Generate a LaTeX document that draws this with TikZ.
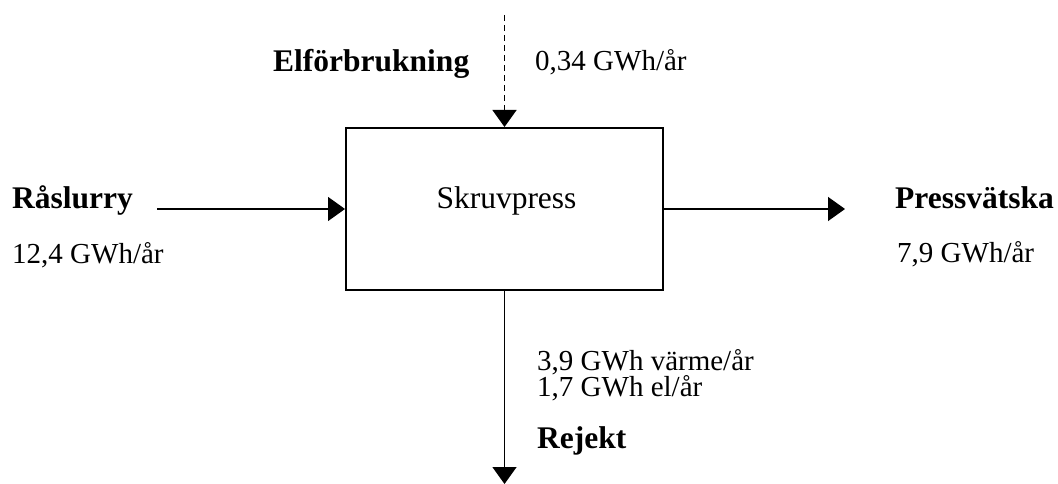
\documentclass[tikz,border=0pt]{standalone}
\usepackage{fontspec}
\setmainfont{Liberation Serif}
\usetikzlibrary{arrows.meta}
\tikzset{
  flow/.style={line width=1.5pt,-{Triangle[width=24pt,length=17pt]}},
  title/.style={anchor=base west,inner sep=0pt,font=\fontsize{31.5}{36}\selectfont\bfseries},
  val/.style={anchor=base west,inner sep=0pt,font=\fontsize{29}{34}\selectfont},
  unit/.style={draw,line width=2pt,minimum width=317pt,minimum height=162pt,inner sep=0pt}
}
\begin{document}
\begin{tikzpicture}[x=1pt,y=-1pt]
\useasboundingbox (0,0) rectangle (1058,484);
\node[unit] (box) at (504.5,209) {};
\node[anchor=base,inner sep=0pt,font=\fontsize{31.5}{36}\selectfont] (boxlabel) at (506.5,208) {Skruvpress};
\coordinate (ein) at (504.5,15);
\coordinate (lin) at (157,209);
\coordinate (rout) at (845,209);
\coordinate (rej) at (504.5,484);
\draw[flow,dash pattern=on 6pt off 4pt] (ein) -- (box.north);
\draw[flow] (lin) -- (box.west);
\draw[flow] (box.east) -- (rout);
\draw[flow] (box.south) -- (rej);
\node[title] (el) at (273,72) {Elförbrukning};
\node[val] (elv) at (535,71) {0,34 GWh/år};
\node[title] (ra) at (12,208) {Råslurry};
\node[val] (rav) at (12,263) {12,4 GWh/år};
\node[title] (pr) at (895,208) {Pressvätska};
\node[val] (prv) at (897,262) {7,9 GWh/år};
\node[val] (rv) at (537,370) {\parbox[t]{300pt}{\fontsize{29}{25}\selectfont\raggedright 3,9 GWh värme/år\\1,7 GWh el/år}};
\node[title] (re) at (537,448) {Rejekt};
\end{tikzpicture}
\end{document}
